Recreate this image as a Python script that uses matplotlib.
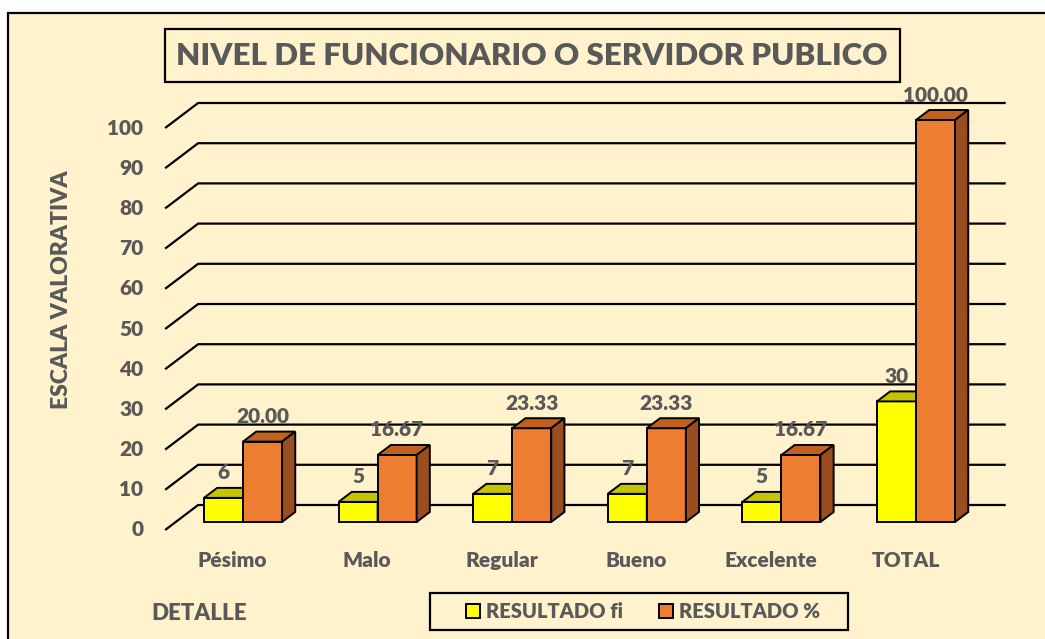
import numpy as np
import matplotlib.pyplot as plt
from matplotlib.patches import Polygon, Rectangle, Patch

# Datos del grafico
categorias = ['Pésimo', 'Malo', 'Regular', 'Bueno', 'Excelente', 'TOTAL']
resultado_fi = [6, 5, 7, 7, 5, 30]
resultado_pct = [20.00, 16.67, 23.33, 23.33, 16.67, 100.00]
etiquetas_pct = ['20.00', '16.67', '23.33', '23.33', '16.67', '100.00']
marcas_y = list(range(0, 101, 10))

plt.rcParams['font.family'] = ['Lato', 'DejaVu Sans']
plt.rcParams['font.weight'] = 'heavy'

GRIS = '#595959'
FONDO = '#FFF2CC'
AMARILLO, AMARILLO_TOP = '#FFFF00', '#C4C400'
NARANJA, NARANJA_TOP, NARANJA_LADO = '#ED7D31', '#C0611F', '#9A4D1E'

W, H = 1045, 639
fig = plt.figure(figsize=(W / 100, H / 100), dpi=100)
fig.patch.set_facecolor('white')

# Area del grafico (borde exterior)
fig.patches.append(Rectangle((8 / W, -0.1), 1.2, 1.1 - 13 / H, transform=fig.transFigure,
                             facecolor=FONDO, edgecolor='black', linewidth=1.6, zorder=-10))

# Escala: plano frontal de las barras
sx, sy = 134.6, 4.02        # pixeles por unidad (x categoria, y valor)
x0_px, y0_px = 243, 522     # posicion de la categoria 0, valor 0
ax = fig.add_axes([0, 0, 1, 1])
ax.set_xlim(-x0_px / sx, (W - x0_px) / sx)
ax.set_ylim((y0_px - H) / sy, y0_px / sy)
ax.set_facecolor('none')
ax.axis('off')

# Profundidad 3D en unidades de datos
Dx, Dy = 33 / sx, 25 / sy
d_barra, prof_barra = 0.32, 0.40


def proj(x, v, d):
    # d = 0 pared frontal, d = 1 pared del fondo
    return (x + (d - d_barra) * Dx, v + (d - d_barra) * Dy)


# Lineas de la cuadricula (pared del fondo y piso lateral)
for v in marcas_y:
    pts = [proj(-0.5, v, 0), proj(-0.5, v, 1), proj(5.5, v, 1)]
    ax.plot([p[0] for p in pts], [p[1] for p in pts], color='black', lw=1.6,
            zorder=1, solid_capstyle='butt')
    ax.annotate(str(v), proj(-0.5, v, 0), xytext=(-22, 0), textcoords='offset pixels',
                ha='right', va='center', fontsize=15, color=GRIS)

ancho = 0.29


def barra3d(x_izq, v, frente, top, lado, z):
    x_der = x_izq + ancho
    d1, d2 = d_barra, d_barra + prof_barra
    ax.bar(x_izq, v, width=ancho, align='edge', color=frente, edgecolor='black',
           linewidth=1.4, zorder=z)
    ax.add_patch(Polygon([proj(x_izq, v, d1), proj(x_der, v, d1), proj(x_der, v, d2),
                          proj(x_izq, v, d2)], closed=True, facecolor=top,
                         edgecolor='black', linewidth=1.4, zorder=z))
    ax.add_patch(Polygon([proj(x_der, 0, d1), proj(x_der, v, d1), proj(x_der, v, d2),
                          proj(x_der, 0, d2)], closed=True, facecolor=lado,
                         edgecolor='black', linewidth=1.4, zorder=z))


for i, cat in enumerate(categorias):
    barra3d(i - ancho, resultado_fi[i], AMARILLO, AMARILLO_TOP, '#A8A800', 3 + 2 * i)
    barra3d(i, resultado_pct[i], NARANJA, NARANJA_TOP, NARANJA_LADO, 4 + 2 * i)
    ax.annotate(str(resultado_fi[i]), (i - ancho / 2, resultado_fi[i]), xytext=(0, 25),
                textcoords='offset pixels', ha='center', va='center',
                fontsize=15, color=GRIS, zorder=20)
    ax.annotate(etiquetas_pct[i], (i + ancho / 2, resultado_pct[i]), xytext=(0, 25),
                textcoords='offset pixels', ha='center', va='center',
                fontsize=15, color=GRIS, zorder=20)
    ax.annotate(cat, proj(i, 0, 0), xytext=(0, -37), textcoords='offset pixels',
                ha='center', va='baseline', fontsize=15, color=GRIS)

# Titulo
fig.patches.append(Rectangle((165 / W, 1 - 82 / H), 735 / W, 53 / H, transform=fig.transFigure,
                             facecolor=FONDO, edgecolor='black', linewidth=1.6, zorder=2))
fig.text(532 / W, 1 - 56 / H, 'NIVEL DE FUNCIONARIO O SERVIDOR PUBLICO', ha='center',
         va='center', fontsize=22.5, color=GRIS, zorder=3)

# Titulos de ejes
fig.text(62 / W, 1 - 290 / H, 'ESCALA VALORATIVA', rotation=90, ha='center', va='center',
         fontsize=16.5, color=GRIS)
fig.text(199 / W, 1 - 613 / H, 'DETALLE', ha='center', va='center', fontsize=16, color=GRIS)

# Leyenda (marco propio)
fig.patches.append(Rectangle((430 / W, 1 - 630 / H), 418 / W, 37 / H, transform=fig.transFigure,
                             facecolor=FONDO, edgecolor='black', linewidth=1.6, zorder=2))
manejadores = [Patch(facecolor=AMARILLO, edgecolor='black', linewidth=1.4, label='RESULTADO fi'),
               Patch(facecolor=NARANJA, edgecolor='black', linewidth=1.4, label='RESULTADO %')]
ley = fig.legend(handles=manejadores, loc='center', bbox_to_anchor=(643 / W, 1 - 611.5 / H),
                 ncol=2, frameon=False, fontsize=14.5, handlelength=0.7, handleheight=0.7,
                 handletextpad=0.3, columnspacing=1.75, borderpad=0.2, labelcolor=GRIS)
ley.set_zorder(5)

fig.savefig('out.png', dpi=100, facecolor=fig.get_facecolor())
